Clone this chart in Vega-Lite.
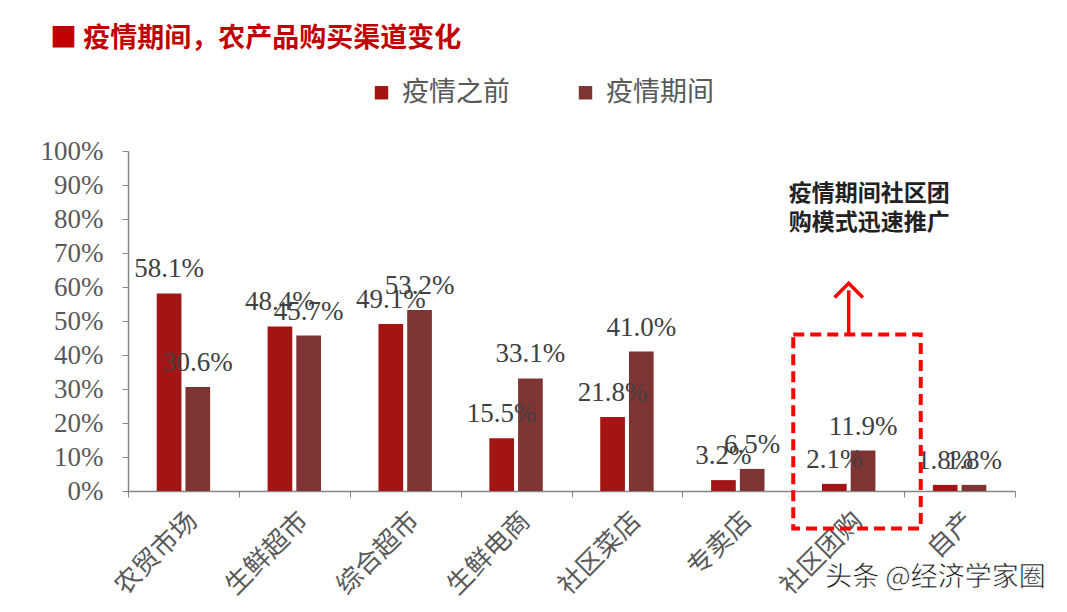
{
  "$schema": "https://vega.github.io/schema/vega-lite/v6.json",
  "width": 887,
  "height": 340,
  "autosize": "none",
  "padding": {"left": 128, "top": 151, "right": 52, "bottom": 121},
  "background": "white",
  "config": {"view": {"stroke": null}},
  "title": {
    "text": "■ 疫情期间，农产品购买渠道变化",
    "anchor": "start",
    "frame": "group",
    "dx": -78,
    "offset": 26,
    "fontSize": 27,
    "fontWeight": "bold",
    "color": "#C00000",
    "font": "Noto Sans CJK SC"
  },
  "datasets": {
    "bars": [
      {"渠道": "农贸市场", "时期": "疫情之前", "占比": 0.581},
      {"渠道": "农贸市场", "时期": "疫情期间", "占比": 0.306},
      {"渠道": "生鲜超市", "时期": "疫情之前", "占比": 0.484},
      {"渠道": "生鲜超市", "时期": "疫情期间", "占比": 0.457},
      {"渠道": "综合超市", "时期": "疫情之前", "占比": 0.491},
      {"渠道": "综合超市", "时期": "疫情期间", "占比": 0.532},
      {"渠道": "生鲜电商", "时期": "疫情之前", "占比": 0.155},
      {"渠道": "生鲜电商", "时期": "疫情期间", "占比": 0.331},
      {"渠道": "社区菜店", "时期": "疫情之前", "占比": 0.218},
      {"渠道": "社区菜店", "时期": "疫情期间", "占比": 0.41},
      {"渠道": "专卖店", "时期": "疫情之前", "占比": 0.032},
      {"渠道": "专卖店", "时期": "疫情期间", "占比": 0.065},
      {"渠道": "社区团购", "时期": "疫情之前", "占比": 0.021},
      {"渠道": "社区团购", "时期": "疫情期间", "占比": 0.119},
      {"渠道": "自产", "时期": "疫情之前", "占比": 0.018},
      {"渠道": "自产", "时期": "疫情期间", "占比": 0.018}
    ],
    "box": [{"渠道": "社区团购", "右": "自产", "占比": 0.46, "下": -0.11}],
    "arrow": [{"渠道": "社区团购", "占比": 0.59, "起": 0.46}],
    "note": [{"渠道": "社区团购", "占比": 0.875, "文本": "疫情期间社区团\n购模式迅速推广"}],
    "mark": [{"渠道": "自产", "占比": -0.255, "文本": "头条 @经济学家圈"}]
  },
  "encoding": {
    "x": {
      "field": "渠道",
      "type": "nominal",
      "scale": {
        "domain": ["农贸市场", "生鲜超市", "综合超市", "生鲜电商", "社区菜店", "专卖店", "社区团购", "自产"],
        "paddingInner": 0,
        "paddingOuter": 0
      },
      "axis": {
        "title": null,
        "labelAngle": -45,
        "labelFont": "Noto Sans CJK SC",
        "labelFontSize": 26,
        "labelColor": "#595959",
        "labelPadding": 10,
        "labelOverlap": false,
        "tickBand": "extent",
        "tickSize": 6,
        "tickColor": "#868686",
        "domainColor": "#868686",
        "domainWidth": 1.5
      }
    },
    "y": {
      "field": "占比",
      "type": "quantitative",
      "scale": {"domain": [0, 1], "nice": false},
      "axis": {
        "title": null,
        "format": ".0%",
        "values": [0, 0.1, 0.2, 0.3, 0.4, 0.5, 0.6, 0.7, 0.8, 0.9, 1],
        "grid": false,
        "labelOverlap": false,
        "labelFont": "Liberation Serif",
        "labelFontSize": 27,
        "labelColor": "#595959",
        "labelPadding": 19,
        "tickSize": 6,
        "tickColor": "#868686",
        "domainColor": "#868686",
        "domainWidth": 1.5
      }
    }
  },
  "layer": [
    {
      "data": {"name": "bars"},
      "mark": {"type": "bar"},
      "encoding": {
        "xOffset": {
          "field": "时期",
          "type": "nominal",
          "scale": {"domain": ["疫情之前", "疫情期间"], "paddingInner": 0.14, "paddingOuter": 1.05}
        },
        "color": {
          "field": "时期",
          "type": "nominal",
          "scale": {"domain": ["疫情之前", "疫情期间"], "range": ["#A31515", "#7F3434"]},
          "legend": {
            "title": null,
            "orient": "none",
            "legendX": 240,
            "legendY": -72,
            "direction": "horizontal",
            "symbolType": "square",
            "symbolSize": 180,
            "symbolStrokeWidth": 0,
            "labelFont": "Noto Sans CJK SC",
            "labelFontSize": 27,
            "labelColor": "#595959",
            "columnPadding": 62,
            "labelOffset": 7
          }
        }
      }
    },
    {
      "data": {"name": "bars"},
      "mark": {"type": "text", "font": "Liberation Serif", "fontSize": 27, "color": "#404040", "baseline": "alphabetic", "dy": -16},
      "encoding": {
        "xOffset": {"field": "时期", "type": "nominal"},
        "text": {"field": "占比", "type": "quantitative", "format": ".1%"}
      }
    },
    {
      "data": {"name": "box"},
      "mark": {"type": "rect", "fill": null, "stroke": "#FF0000", "strokeWidth": 4, "strokeDash": [11, 6]},
      "encoding": {
        "x": {
          "field": "渠道",
          "type": "nominal",
          "bandPosition": 0,
          "scale": {
            "domain": ["农贸市场", "生鲜超市", "综合超市", "生鲜电商", "社区菜店", "专卖店", "社区团购", "自产"],
            "paddingInner": 0,
            "paddingOuter": 0
          },
          "axis": {
            "title": null,
            "labelAngle": -45,
            "labelFont": "Noto Sans CJK SC",
            "labelFontSize": 26,
            "labelColor": "#595959",
            "labelPadding": 10,
            "labelOverlap": false,
            "tickBand": "extent",
            "tickSize": 6,
            "tickColor": "#868686",
            "domainColor": "#868686",
            "domainWidth": 1.5
          }
        },
        "x2": {"field": "右", "bandPosition": 0.15},
        "y2": {"field": "下"}
      }
    },
    {
      "data": {"name": "arrow"},
      "mark": {"type": "rule", "stroke": "#FF0000", "strokeWidth": 3.5},
      "encoding": {
        "y2": {"field": "起"}
      }
    },
    {
      "data": {"name": "arrow"},
      "mark": {"type": "point", "shape": "M -1 0.5 L 0 -0.5 L 1 0.5", "filled": false, "stroke": "#FF0000", "strokeWidth": 3.5, "size": 800, "opacity": 1},
      "encoding": {}
    },
    {
      "data": {"name": "note"},
      "mark": {"type": "text", "align": "left", "baseline": "middle", "dx": -60, "lineBreak": "\n", "lineHeight": 29, "font": "Noto Sans CJK SC", "fontSize": 23, "fontWeight": "bold", "color": "#222222"},
      "encoding": {
        "text": {"field": "文本"}
      }
    },
    {
      "data": {"name": "mark"},
      "mark": {"type": "text", "align": "center", "baseline": "middle", "dx": -24, "font": "Noto Sans CJK SC", "fontSize": 27, "color": "#111111", "stroke": "white", "strokeWidth": 0.6},
      "encoding": {
        "text": {"field": "文本"}
      }
    }
  ]
}
